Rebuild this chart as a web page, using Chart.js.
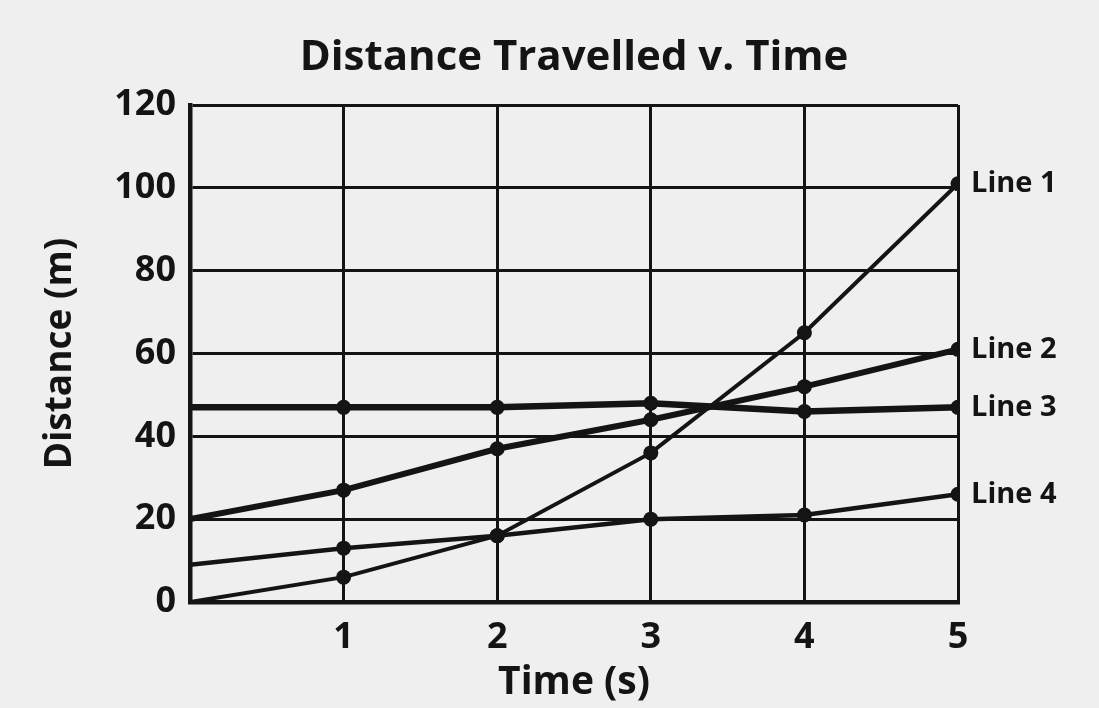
<!DOCTYPE html>
<html>
<head>
<meta charset="utf-8">
<script src="https://cdn.jsdelivr.net/npm/chart.js@4/dist/chart.umd.min.js"></script>
<style>
  html, body { margin: 0; padding: 0; background: #efefef; }
  #wrap { width: 1099px; height: 708px; }
</style>
</head>
<body>
<div id="wrap"><canvas id="myChart" width="1099" height="708"></canvas></div>
<script>
// Data
const times = [0, 1, 2, 3, 4, 5];
const line1 = [0, 6, 16, 36, 65, 101];
const line2 = [20, 27, 37, 44, 52, 61];
const line3 = [47, 47, 47, 48, 46, 47];
const line4 = [9, 13, 16, 20, 21, 26];
const seriesNames = ['Line 1', 'Line 2', 'Line 3', 'Line 4'];
const yTicks = [0, 20, 40, 60, 80, 100, 120];
const chartTitle = 'Distance Travelled v. Time';

const ink = '#141414';
const font = '"Open Sans", "DejaVu Sans", sans-serif';

function toPoints(values) {
  return times.map((t, i) => ({ x: t, y: values[i] }));
}

// no dot at t = 0
const dots = times.map(t => (t === 0 ? 0 : 7.5));

function makeSet(name, values, width) {
  return {
    label: name,
    data: toPoints(values),
    borderColor: ink,
    backgroundColor: ink,
    borderWidth: width,
    pointRadius: dots,
    pointHoverRadius: dots,
    pointBorderWidth: 0,
    tension: 0
  };
}

// title centred over the plot, and "Line n" next to each last point
const extraText = {
  id: 'extraText',
  afterDatasetsDraw(chart) {
    const c = chart.ctx;
    const area = chart.chartArea;
    c.save();
    c.fillStyle = ink;
    c.textBaseline = 'middle';
    c.textAlign = 'center';
    c.font = 'bold 42px ' + font;
    c.fillText(chartTitle, (area.left + area.right) / 2, 58);
    c.textAlign = 'left';
    c.font = 'bold 29px ' + font;
    chart.data.datasets.forEach(ds => {
      const last = ds.data[ds.data.length - 1];
      const px = chart.scales.x.getPixelForValue(last.x);
      const py = chart.scales.y.getPixelForValue(last.y);
      c.fillText(ds.label, px + 13, py);
    });
    c.restore();
  }
};

const ctx = document.getElementById('myChart').getContext('2d');

new Chart(ctx, {
  type: 'line',
  data: {
    datasets: [
      makeSet(seriesNames[0], line1, 4),
      makeSet(seriesNames[1], line2, 6),
      makeSet(seriesNames[2], line3, 6.5),
      makeSet(seriesNames[3], line4, 4.5)
    ]
  },
  options: {
    responsive: false,
    animation: false,
    events: [],
    layout: { padding: { top: 105, right: 141, bottom: 0, left: 38 } },
    plugins: {
      legend: { display: false },
      tooltip: { enabled: false },
      title: { display: false }
    },
    scales: {
      x: {
        type: 'linear',
        min: 0,
        max: 5,
        afterFit: axis => { axis.height = 106; },
        border: { color: ink, width: 4.5 },
        grid: { color: ink, lineWidth: 3, drawTicks: false },
        ticks: {
          stepSize: 1,
          padding: 14,
          color: ink,
          font: { family: font, size: 36, weight: 'bold' },
          callback: v => (v === 0 ? '' : v)
        },
        title: {
          display: true,
          text: 'Time (s)',
          color: ink,
          font: { family: font, size: 39, weight: 'bold' },
          padding: { top: 0, bottom: 2 }
        }
      },
      y: {
        min: yTicks[0],
        max: yTicks[yTicks.length - 1],
        afterFit: axis => { axis.width = 152; },
        border: { color: ink, width: 4.5 },
        grid: { color: ink, lineWidth: 3, drawTicks: false },
        afterBuildTicks: axis => { axis.ticks = yTicks.map(v => ({ value: v })); },
        ticks: {
          padding: 14,
          color: ink,
          font: { family: font, size: 36, weight: 'bold' }
        },
        title: {
          display: true,
          text: 'Distance (m)',
          color: ink,
          font: { family: font, size: 37, weight: 'bold' },
          padding: { top: 0, bottom: 0 }
        }
      }
    }
  },
  plugins: [extraText]
});
</script>
</body>
</html>
